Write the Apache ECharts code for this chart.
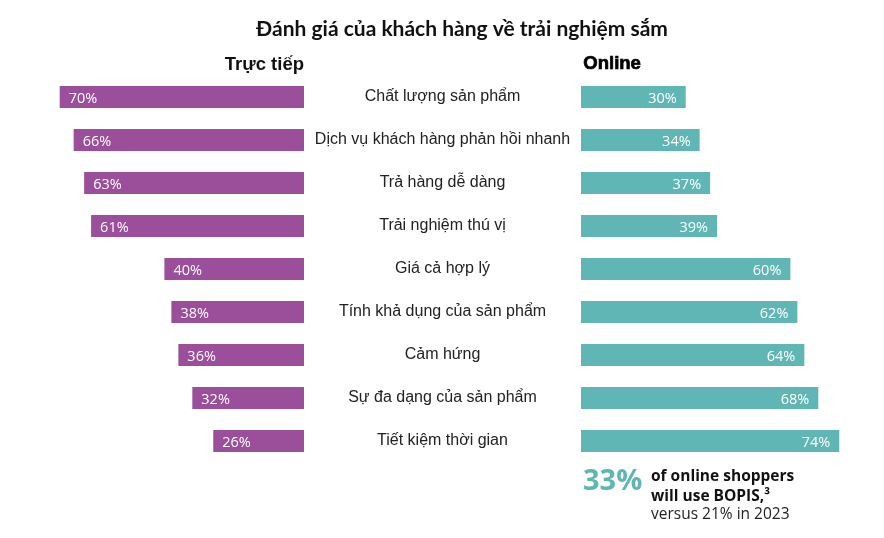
<!DOCTYPE html>
<html>
<head>
<meta charset="utf-8">
<script src="https://cdn.jsdelivr.net/npm/echarts@6/dist/echarts.min.js"></script>
<style>html,body{margin:0;padding:0;background:#fff}#c{width:884px;height:538px}</style>
</head>
<body>
<div id="c"></div>
<script>
const titleText = 'Đánh giá của khách hàng về trải nghiệm sắm';
const leftName = 'Trực tiếp';
const rightName = 'Online';
const categories = ['Chất lượng sản phẩm','Dịch vụ khách hàng phản hồi nhanh','Trả hàng dễ dàng','Trải nghiệm thú vị','Giá cả hợp lý','Tính khả dụng của sản phẩm','Cảm hứng','Sự đa dạng của sản phẩm','Tiết kiệm thời gian'];
const inStore = [70,66,63,61,40,38,36,32,26];
const online = [30,34,37,39,60,62,64,68,74];
const noteBig = '33%';
const noteLines = ['of online shoppers','will use BOPIS,³','versus 21% in 2023'];

const purple = '#9b4f9b';
const teal = '#60b6b5';
const chart = echarts.init(document.getElementById('c'));
chart.setOption({
  animation: false,
  backgroundColor: '#fff',
  title: {
    text: titleText, left: 457, top: 14, textAlign: 'center',
    textStyle: {fontFamily: 'Lato', fontWeight: 'bold', fontSize: 21, color: '#111'}
  },
  grid: [
    {left: 24.8, width: 279.2, top: 75.5, height: 387, containLabel: false},
    {left: 581, width: 279.2, top: 75.5, height: 387, containLabel: false}
  ],
  xAxis: [
    {gridIndex: 0, type: 'value', min: 0, max: 80, inverse: true, show: false},
    {gridIndex: 1, type: 'value', min: 0, max: 80, show: false}
  ],
  yAxis: [
    {gridIndex: 0, type: 'category', data: categories, inverse: true, position: 'right',
     axisLine: {show: false}, axisTick: {show: false},
     axisLabel: {margin: 138.5, align: 'center', fontFamily: 'Liberation Sans', fontSize: 16, color: '#222'}},
    {gridIndex: 1, type: 'category', data: categories, inverse: true, show: false}
  ],
  series: [
    {type: 'bar', xAxisIndex: 0, yAxisIndex: 0, data: inStore, barWidth: 22,
     itemStyle: {color: purple},
     label: {show: true, position: 'insideLeft', distance: 9, offset: [0, 2], formatter: '{c}%', color: '#fff', fontFamily: 'Open Sans', fontSize: 14.5}},
    {type: 'bar', xAxisIndex: 1, yAxisIndex: 1, data: online, barWidth: 22,
     itemStyle: {color: teal},
     label: {show: true, position: 'insideRight', distance: 9, offset: [0, 2], formatter: '{c}%', color: '#fff', fontFamily: 'Open Sans', fontSize: 14.5}}
  ],
  graphic: [
    {type: 'text', right: 884 - 304, top: 55, style: {text: leftName, fontFamily: 'Liberation Sans', fontWeight: 'bold', fontSize: 18.5, fill: '#111', textAlign: 'right'}},
    {type: 'text', left: 583, top: 54, style: {text: rightName, fontFamily: 'Liberation Sans', fontWeight: 'bold', fontSize: 18.5, fill: '#000', stroke: '#000', lineWidth: 0.7}},
    {type: 'text', left: 583, top: 467, style: {text: noteBig, fontFamily: 'Open Sans', fontWeight: 'bold', fontSize: 29, fill: teal}},
    {type: 'text', left: 651, top: 466, style: {text: noteLines[0] + '\n' + noteLines[1], fontFamily: 'Open Sans', fontWeight: 'bold', fontSize: 15.5, lineHeight: 20.5, fill: '#111'}},
    {type: 'text', left: 651, top: 507, style: {text: noteLines[2], fontFamily: 'Open Sans', fontSize: 15.5, fill: '#222'}}
  ]
});
</script>
</body>
</html>
